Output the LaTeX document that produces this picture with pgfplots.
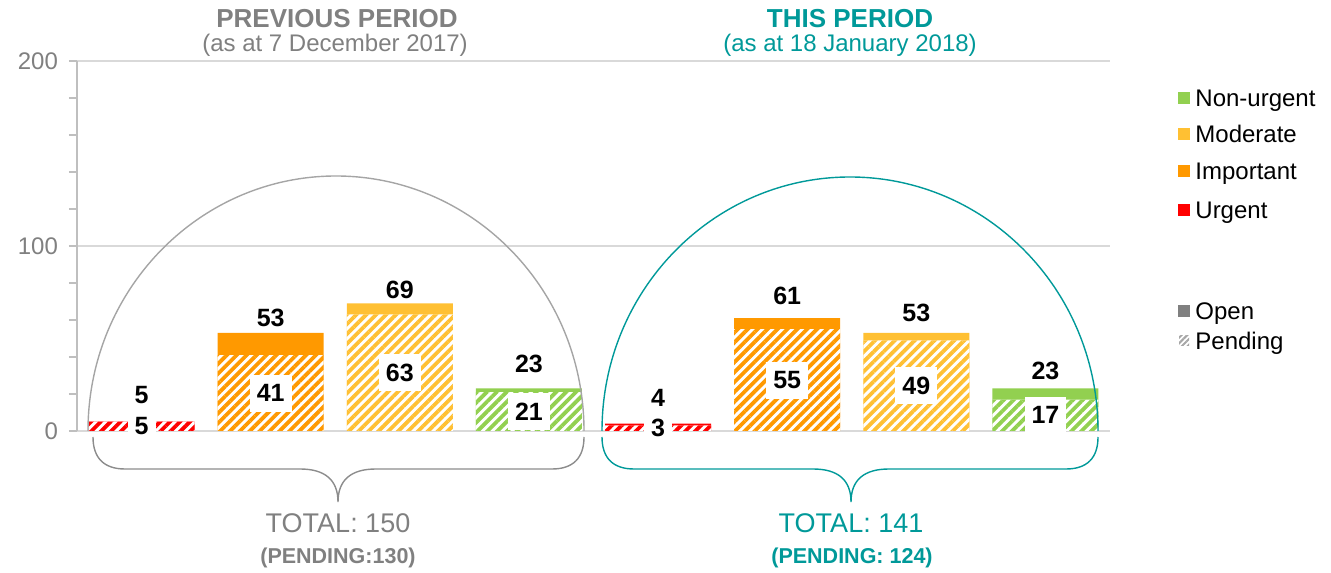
\documentclass[border=0pt]{standalone}
\usepackage{pgfplots}
\pgfplotsset{compat=1.18}
\usetikzlibrary{patterns.meta}
\usepackage{fontspec}
\setmainfont{Liberation Sans}
\definecolor{cRed}{RGB}{255,0,0}
\definecolor{cOrange}{RGB}{255,153,0}
\definecolor{cMod}{RGB}{255,192,51}
\definecolor{cGreen}{RGB}{146,208,80}
\definecolor{tgray}{RGB}{128,128,128}
\definecolor{tealc}{RGB}{0,153,153}
\definecolor{gridc}{RGB}{217,217,217}
\definecolor{axc}{RGB}{191,191,191}
\definecolor{arcg}{RGB}{165,165,165}
\definecolor{braceg}{RGB}{140,140,140}
\tikzset{
  hatch/.style={fill=white, draw=none, postaction={pattern={Lines[angle=45,distance=3.5pt,line width=1.9pt]}, pattern color=#1}},
  solid/.style={fill=#1, draw=none},
  vlab/.style={font=\bfseries\fontsize{12.5}{13}\selectfont},
  vbox/.style={fill=white, inner xsep=3.5pt, inner ysep=0pt, minimum height=18.5pt, font=\bfseries\fontsize{12.5}{13}\selectfont},
}
\begin{document}
\begin{tikzpicture}
\useasboundingbox (0,0) rectangle (665.5pt,286pt);
\begin{axis}[
  at={(38.5pt,70.5pt)}, anchor=south west,
  scale only axis, width=516.5pt, height=185pt,
  xmin=-0.5, xmax=7.5, ymin=0, ymax=200,
  clip=false,
  hide x axis,
  axis y line*=left,
  ytick={0,100,200},
  minor ytick={20,40,60,80,120,140,160,180},
  tick align=outside,
  major tick length=4pt, minor tick length=4pt,
  tick style={axc, line width=1pt},
  ymajorgrids,
  grid style={gridc, line width=1pt},
  y axis line style={axc, line width=1pt, -},
  yticklabel style={font=\fontsize{12}{12}\selectfont, text=tgray, xshift=-2pt},
  /pgf/number format/assume math mode=true,
]
% open (total) bars
\addplot[ybar, bar width=53pt, bar shift=0pt, solid=cRed]    coordinates {(0,5)  (4,4)};
\addplot[ybar, bar width=53pt, bar shift=0pt, solid=cOrange] coordinates {(1,53) (5,61)};
\addplot[ybar, bar width=53pt, bar shift=0pt, solid=cMod]    coordinates {(2,69) (6,53)};
\addplot[ybar, bar width=53pt, bar shift=0pt, solid=cGreen]  coordinates {(3,23) (7,23)};
% pending bars
\addplot[ybar, bar width=53pt, bar shift=0pt, hatch=cRed]    coordinates {(0,5)  (4,3)};
\addplot[ybar, bar width=53pt, bar shift=0pt, hatch=cOrange] coordinates {(1,41) (5,55)};
\addplot[ybar, bar width=53pt, bar shift=0pt, hatch=cMod]    coordinates {(2,63) (6,49)};
\addplot[ybar, bar width=53pt, bar shift=0pt, hatch=cGreen]  coordinates {(3,21) (7,17)};
% pending labels
\node[vbox] at (axis cs:0,2.5) {5};
\node[vbox] at (axis cs:1,20.5) {41};
\node[vbox] at (axis cs:2,31.5) {63};
\node[vbox] at (axis cs:3,10.5) {21};
\node[vbox] at (axis cs:4,1.5) {3};
\node[vbox] at (axis cs:5,27.5) {55};
\node[vbox] at (axis cs:6,24.5) {49};
\node[vbox] at (axis cs:7,8.5) {17};
% total labels
\node[vlab] at (axis cs:0,19.5) {5};
\node[vlab] at (axis cs:1,61.1) {53};
\node[vlab] at (axis cs:2,76.2) {69};
\node[vlab] at (axis cs:3,36.2) {23};
\node[vlab] at (axis cs:4,17.8) {4};
\node[vlab] at (axis cs:5,73) {61};
\node[vlab] at (axis cs:6,63.8) {53};
\node[vlab] at (axis cs:7,32.4) {23};
\end{axis}
\begin{scope}[x=0.5pt, y=0.5pt]
% titles
\node[text=tgray, font=\bfseries\fontsize{13}{14}\selectfont] at (337,553) {PREVIOUS PERIOD};
\node[text=tgray, font=\fontsize{12}{13}\selectfont] at (335,527) {(as at 7 December 2017)};
\node[text=tealc, font=\bfseries\fontsize{13}{14}\selectfont] at (850,553) {THIS PERIOD};
\node[text=tealc, font=\fontsize{12}{13}\selectfont] at (850,527) {(as at 18 January 2018)};
% arcs
\draw[arcg, line width=0.7pt] (88,141) arc[start angle=180, end angle=0, x radius=248, y radius=255];
\draw[tealc, line width=0.7pt] (602,141) arc[start angle=180, end angle=0, x radius=248, y radius=254];
% braces
\draw[braceg, line width=0.7pt] (93,135) .. controls (93,114) and (104,103) .. (125,103) -- (300,103) .. controls (325,103) and (338,92) .. (338,70) .. controls (338,92) and (351,103) .. (376,103) -- (552,103) .. controls (573,103) and (584,114) .. (584,135);
\draw[tealc, line width=0.7pt] (602,135) .. controls (602,114) and (613,103) .. (634,103) -- (813,103) .. controls (838,103) and (851,92) .. (851,70) .. controls (851,92) and (864,103) .. (889,103) -- (1066,103) .. controls (1087,103) and (1098,114) .. (1098,135);
% totals
\node[text=tgray, font=\fontsize{13.5}{14}\selectfont] at (338,49) {TOTAL: 150};
\node[text=tgray, font=\bfseries\fontsize{10.75}{12}\selectfont] at (338,14) {(PENDING:130)};
\node[text=tealc, font=\fontsize{13.5}{14}\selectfont] at (851,49) {TOTAL: 141};
\node[text=tealc, font=\bfseries\fontsize{10.75}{12}\selectfont] at (852,14) {(PENDING: 124)};
% legend
\fill[cGreen]  (1178,468) rectangle (1190,480);
\fill[cMod]    (1178,432) rectangle (1190,444);
\fill[cOrange] (1178,395) rectangle (1190,407);
\fill[cRed]    (1178,356) rectangle (1190,368);
\fill[tgray]   (1178,255) rectangle (1190,267);
\fill[pattern={Lines[angle=45,distance=2pt,line width=1pt]}, pattern color=tgray!70] (1179,226) rectangle (1189,236);
\begin{scope}[every node/.style={anchor=base west, inner sep=0pt, font=\fontsize{12}{13}\selectfont}]
\node at (1195,465.4) {Non-urgent};
\node at (1195,429.4) {Moderate};
\node at (1195,392.4) {Important};
\node at (1195,353.4) {Urgent};
\node at (1195,252.4) {Open};
\node at (1195,222.4) {Pending};
\end{scope}
\end{scope}
\end{tikzpicture}
\end{document}
